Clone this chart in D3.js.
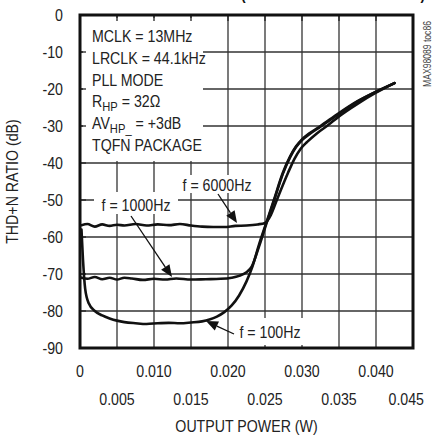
<!DOCTYPE html>
<html><head><meta charset="utf-8">
<script src="https://cdn.jsdelivr.net/npm/d3@7"></script>
<style>
body{margin:0;background:#fff;}
svg{display:block;}
text{font-family:"Liberation Sans",Arial,sans-serif;fill:#222;}
</style></head>
<body>
<script>
// ---- data ----
const xTicksRow1 = [0, 0.010, 0.020, 0.030, 0.040];
const xTicksRow2 = [0.005, 0.015, 0.025, 0.035, 0.045];
const yTicks = [0, -10, -20, -30, -40, -50, -60, -70, -80, -90];
const infoLines = ["MCLK = 13MHz", "LRCLK = 44.1kHz", "PLL MODE", "R|HP| = 32Ω", "AV|HP_| = +3dB", "TQFN PACKAGE"];
const power100 = [0.0002,0.0004,0.0007,0.0012,0.002,0.003,0.004,0.005,0.006,0.0075,0.009,0.0105,0.012,0.0135,0.015,0.0165,0.0175,0.0185,0.0195,0.0205,0.0215,0.0225,0.0233,0.0242,0.0252,0.0262,0.0274,0.0284,0.0292,0.030,0.031,0.0325,0.035,0.0375,0.040,0.0425];
const thd100   = [-58,-66,-74,-78,-80,-81.2,-82,-82.6,-83,-83.3,-83.5,-83.3,-83.2,-83.3,-83.1,-82.8,-82.3,-81.5,-80.3,-78.5,-75.8,-72,-68,-62,-56,-50,-42.7,-38.2,-35.5,-33.6,-32,-30,-26.5,-23.3,-20.7,-18.4];
const power1000 = [0.0002,0.001,0.002,0.003,0.004,0.005,0.006,0.007,0.0085,0.010,0.0115,0.013,0.015,0.017,0.019,0.0205,0.0215,0.0225,0.0232,0.0242,0.0252,0.0262,0.0274,0.0284,0.0292,0.030,0.031,0.0325,0.035,0.0375,0.040,0.0425];
const thd1000   = [-71,-71.3,-70.8,-71.4,-71,-71.5,-71,-71.2,-71.6,-71.3,-71.5,-71.2,-71.5,-71.4,-71.3,-71,-70.5,-69.5,-68,-62.5,-56.3,-50.3,-43,-38.4,-35.7,-33.8,-32.2,-30.2,-26.7,-23.4,-20.8,-18.4];
const power6000 = [0.0002,0.001,0.002,0.003,0.004,0.005,0.006,0.0075,0.009,0.0105,0.012,0.0135,0.015,0.0165,0.018,0.0195,0.021,0.0225,0.024,0.025,0.0258,0.0266,0.0281,0.029,0.0298,0.0307,0.032,0.0335,0.035,0.0375,0.040,0.0425];
const thd6000   = [-56.8,-56.5,-57.2,-56.6,-57,-56.7,-56.9,-56.5,-56.9,-56.6,-56.8,-56.5,-56.9,-57.2,-57.3,-57.3,-57.0,-56.9,-56.6,-56.2,-54,-50,-42.7,-38.8,-36.2,-34.3,-32,-29.8,-27.4,-24,-21,-18.4];

const W = 432, H = 435, SX = 0.86;
const svg = d3.select("body").append("svg").attr("width", W).attr("height", H);
const x = d3.scaleLinear().domain([0, 0.045]).range([80, 413]);
const y = d3.scaleLinear().domain([-90, 0]).range([348, 15]);

// condensed text helper (real text, horizontally scaled)
function txt(g, tx, ty, s, size, anchor, rot) {
  return g.append("text")
    .attr("transform", `translate(${tx},${ty})${rot ? ` rotate(${rot})` : ""} scale(${SX},1)`)
    .attr("text-anchor", anchor || "start").style("font-size", size + "px").text(s);
}

// title (cut off at top, as in the reference)
const title = svg.append("text").attr("transform", "translate(241,0) scale(0.86,1)")
  .style("font-weight", "bold").style("font-size", "16px").style("fill", "#111");
title.append("tspan").attr("textLength", 214).attr("lengthAdjust", "spacing").text("(HEADPHONE MODE RL = 32Ω)");

// grid
const gridX = d3.range(0.005, 0.045, 0.005);
const gridY = d3.range(-80, 0, 10);
svg.append("g").selectAll("line").data(gridX).join("line")
  .attr("x1", d => x(d)).attr("x2", d => x(d)).attr("y1", y(0)).attr("y2", y(-90))
  .attr("stroke", "#333").attr("stroke-width", 1.3);
svg.append("g").selectAll("line").data(gridY).join("line")
  .attr("y1", d => y(d)).attr("y2", d => y(d)).attr("x1", x(0)).attr("x2", x(0.045))
  .attr("stroke", "#333").attr("stroke-width", 1.3);

// white boxes covering grid
svg.append("rect").attr("x", 83).attr("y", 18).attr("width", 120).attr("height", 143).attr("fill", "#fff");
svg.append("rect").attr("x", 180).attr("y", 175).attr("width", 76).attr("height", 18).attr("fill", "#fff");
svg.append("rect").attr("x", 94).attr("y", 192).attr("width", 84).attr("height", 22).attr("fill", "#fff");
svg.append("rect").attr("x", 238).attr("y", 318).attr("width", 68).attr("height", 27).attr("fill", "#fff");

// inward ticks on frame
svg.append("g").selectAll("line").data(gridX).join("line")
  .attr("x1", d => x(d)).attr("x2", d => x(d)).attr("y1", y(0)).attr("y2", y(0) + 6)
  .attr("stroke", "#222").attr("stroke-width", 1.3);
svg.append("g").selectAll("line").data(gridY).join("line")
  .attr("y1", d => y(d)).attr("y2", d => y(d)).attr("x1", x(0)).attr("x2", x(0) + 6)
  .attr("stroke", "#222").attr("stroke-width", 1.3);

// curves
const line = d3.line().x(d => x(d[0])).y(d => y(d[1])).curve(d3.curveMonotoneX);
const series = [
  d3.zip(power100, thd100),
  d3.zip(power1000, thd1000),
  d3.zip(power6000, thd6000)
];
svg.append("g").selectAll("path").data(series).join("path")
  .attr("d", line).attr("fill", "none").attr("stroke", "#111")
  .attr("stroke-width", 2.6).attr("stroke-linejoin", "round").attr("stroke-linecap", "round");

// frame
svg.append("rect").attr("x", x(0)).attr("y", y(0)).attr("width", x(0.045) - x(0)).attr("height", y(-90) - y(0))
  .attr("fill", "none").attr("stroke", "#111").attr("stroke-width", 3);

// info text
const info = svg.append("g");
infoLines.forEach((s, i) => {
  const t = txt(info, 92, 42 + i * 21.8, "", 16.5);
  const parts = s.split("|");
  parts.forEach((p, j) => {
    if (j % 2 === 1) {
      t.append("tspan").attr("dy", 4).style("font-size", "13px").text(p);
    } else {
      const ts = t.append("tspan").text(p);
      if (j > 0) ts.attr("dy", -4);
    }
  });
});

// annotations
const ann = svg.append("g");
txt(ann, 217, 191, "f = 6000Hz", 16.5, "middle");
txt(ann, 136, 211, "f = 1000Hz", 16.5, "middle");
txt(ann, 270, 338, "f = 100Hz", 16.5, "middle");

const arrows = [
  [[218, 194], [237, 223]],
  [[131, 216], [172, 277]],
  [[234, 334], [206, 321]]
];
arrows.forEach(([a, b]) => {
  const ang = Math.atan2(b[1] - a[1], b[0] - a[0]);
  const L = 12, Wd = 5;
  const bx = b[0] - L * Math.cos(ang), by = b[1] - L * Math.sin(ang);
  svg.append("line").attr("x1", a[0]).attr("y1", a[1]).attr("x2", bx).attr("y2", by)
    .attr("stroke", "#111").attr("stroke-width", 1.3);
  const px = -Math.sin(ang) * Wd, py = Math.cos(ang) * Wd;
  svg.append("path").attr("d", `M${b[0]},${b[1]}L${bx + px},${by + py}L${bx - px},${by - py}Z`).attr("fill", "#111");
});

// axes labels
const yl = svg.append("g");
yTicks.forEach(d => txt(yl, 63, y(d) + 5.8, String(d), 16.5, "end"));
const xl = svg.append("g");
xTicksRow1.forEach(d => txt(xl, x(d), 377, d === 0 ? "0" : d3.format(".3f")(d), 16.5, "middle"));
xTicksRow2.forEach((d, i) => {
  if (i === xTicksRow2.length - 1) txt(xl, 424, 405, d3.format(".3f")(d), 16.5, "end");
  else txt(xl, x(d), 405, d3.format(".3f")(d), 16.5, "middle");
});

txt(svg, (x(0) + x(0.045)) / 2, 432, "OUTPUT POWER (W)", 16.5, "middle");
txt(svg, 18, (y(0) + y(-90)) / 2, "THD+N RATIO (dB)", 16.5, "middle", -90);

svg.append("text").attr("transform", "translate(431,54) rotate(-90) scale(0.86,1)").attr("text-anchor", "middle")
  .style("font-size", "10px").style("fill", "#444").text("MAX98089 toc86");
</script>
</body></html>
